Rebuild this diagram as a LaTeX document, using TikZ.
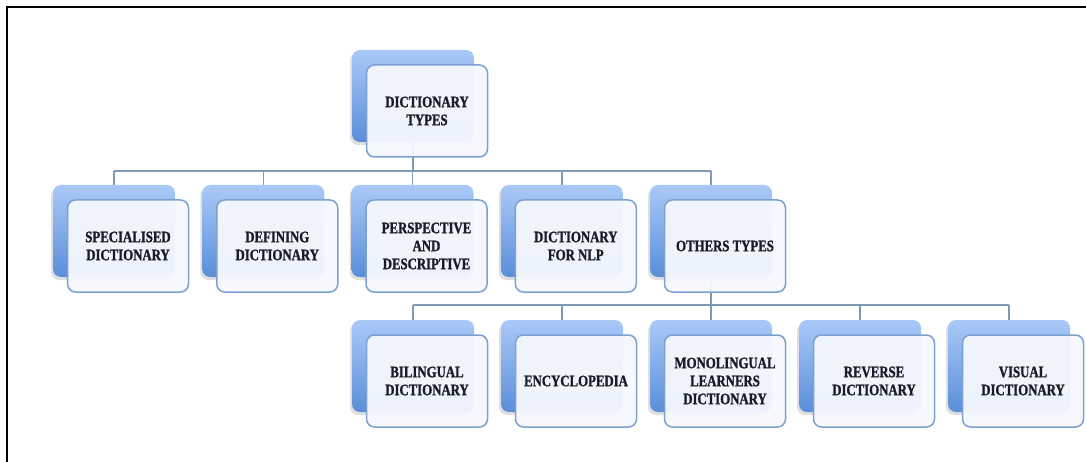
\documentclass[tikz,border=0pt]{standalone}
\usepackage{fontspec}
\newfontfamily\lblfont{Liberation Serif}[FakeStretch=0.8, BoldFeatures={FakeBold=1.2}]
\usetikzlibrary{shadows}
\definecolor{backtop}{HTML}{A9C9F8}
\definecolor{backbot}{HTML}{5A8ED8}
\definecolor{frontfill}{HTML}{F5F8FE}
\definecolor{frontedge}{HTML}{7BA1D2}
\definecolor{linkc}{HTML}{7F9AB6}
\definecolor{txtc}{HTML}{1B1B28}
\tikzset{
  backbox/.style={rectangle, rounded corners=8pt, minimum width=122pt, minimum height=92pt,
    top color=backtop, bottom color=backbot, draw=none,
    drop shadow={shadow xshift=-2pt, shadow yshift=-3pt, opacity=0.25}},
  frontbox/.style={rectangle, rounded corners=8pt, minimum width=121pt, minimum height=92pt,
    draw=frontedge, line width=1.5pt, fill=frontfill, fill opacity=0.95, text opacity=1,
    text=txtc, align=center, inner sep=2pt,
    font=\lblfont\bfseries\fontsize{16}{18}\selectfont},
  link/.style={draw=linkc, line width=1.5pt},
  frame/.style={draw=black, line width=2pt}
}
\begin{document}
\begin{tikzpicture}[x=1pt,y=-1pt]
\useasboundingbox (0,0) rectangle (1086,462);
\coordinate (fa) at (7,7);
\coordinate (fb) at (1086,7);
\coordinate (fc) at (7,462);
\draw[frame] (fb) -- (fa) -- (fc);

% bus coordinates
\coordinate (bus1) at (0,171);
\coordinate (bus2) at (0,305);

% back boxes (positions)
\coordinate (pt) at (413,96);
\coordinate (p1) at (114,231);
\coordinate (p2) at (263.25,231);
\coordinate (p3) at (412.5,231);
\coordinate (p4) at (561.75,231);
\coordinate (p5) at (711,231);
\coordinate (q1) at (413,366);
\coordinate (q2) at (562,366);
\coordinate (q3) at (711,366);
\coordinate (q4) at (860,366);
\coordinate (q5) at (1009,366);

% connectors (under boxes)
\draw[link] (pt) -- (pt |- bus1);
\draw[link] (p1 |- bus1) -- (p5 |- bus1);
\foreach \p in {p1,p2,p3,p4,p5} { \draw[link] (\p |- bus1) -- (\p); }
\draw[link] (p5) -- (p5 |- bus2);
\draw[link] (q1 |- bus2) -- (q5 |- bus2);
\foreach \q in {q1,q2,q3,q4,q5} { \draw[link] (\q |- bus2) -- (\q); }

% back boxes
\node[backbox] (bt) at (pt) {};
\foreach \p in {p1,p2,p3,p4,p5} { \node[backbox] (b\p) at (\p) {}; }
\foreach \q in {q1,q2,q3,q4,q5} { \node[backbox] (b\q) at (\q) {}; }

% front boxes
\node[frontbox] (top) at ([shift={(14,15)}]pt) {DICTIONARY\\TYPES};
\node[frontbox] (spec) at ([shift={(14,15)}]p1) {SPECIALISED\\DICTIONARY};
\node[frontbox] (def) at ([shift={(14,15)}]p2) {DEFINING\\DICTIONARY};
\node[frontbox] (persp) at ([shift={(14,15)}]p3) {PERSPECTIVE\\AND\\DESCRIPTIVE};
\node[frontbox] (nlp) at ([shift={(14,15)}]p4) {DICTIONARY\\FOR NLP};
\node[frontbox] (oth) at ([shift={(14,15)}]p5) {OTHERS TYPES};
\node[frontbox] (bil) at ([shift={(14,15)}]q1) {BILINGUAL\\DICTIONARY};
\node[frontbox] (enc) at ([shift={(14,15)}]q2) {ENCYCLOPEDIA};
\node[frontbox] (mono) at ([shift={(14,15)}]q3) {MONOLINGUAL\\LEARNERS\\DICTIONARY};
\node[frontbox] (rev) at ([shift={(14,15)}]q4) {REVERSE\\DICTIONARY};
\node[frontbox] (vis) at ([shift={(14,15)}]q5) {VISUAL\\DICTIONARY};
\end{tikzpicture}
\end{document}
